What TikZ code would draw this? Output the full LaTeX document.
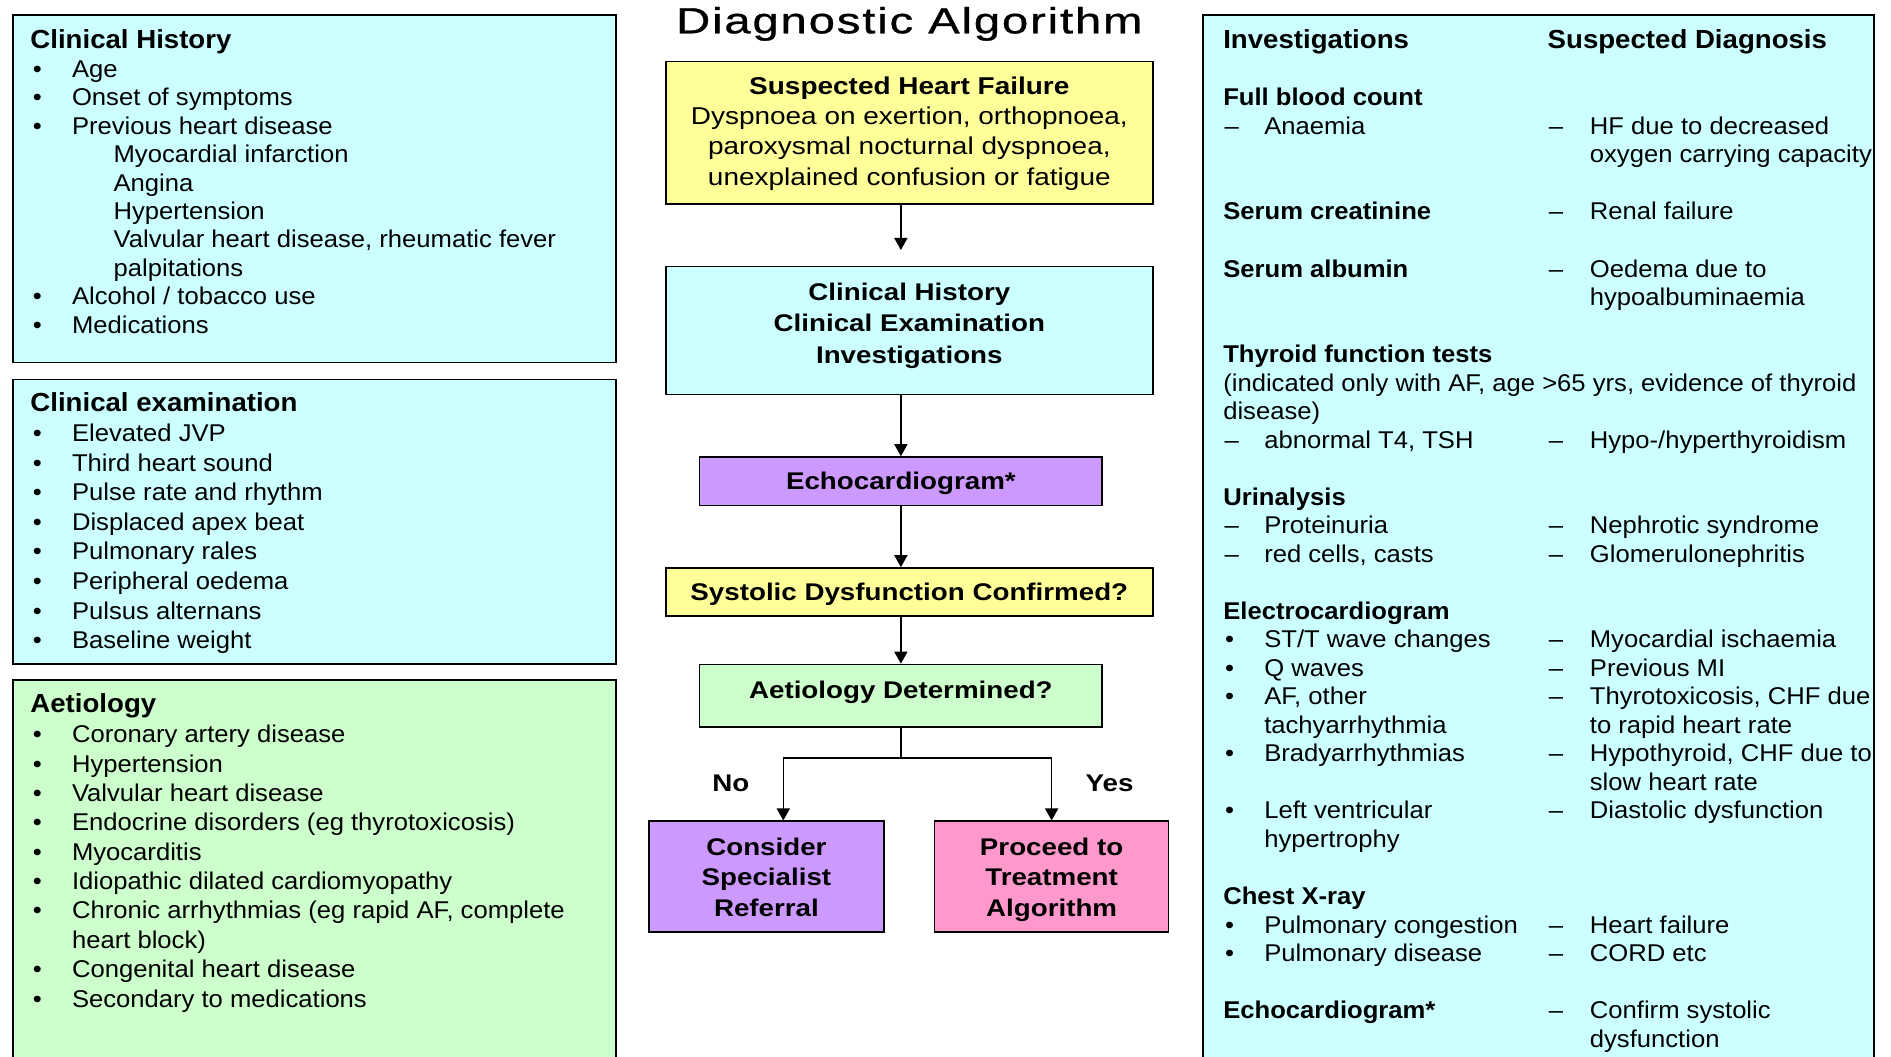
\documentclass[tikz,border=0pt]{standalone}
\usepackage{fontspec}
\setmainfont[FakeStretch=1.057]{Liberation Sans}
\newfontfamily\cfont[FakeStretch=1.15]{Liberation Sans}
\newfontfamily\tfont[FakeStretch=1.3,LetterSpace=5,FakeBold=0.8]{Liberation Sans}
\usetikzlibrary{arrows.meta,calc}
\newlength\pxu \setlength\pxu{0.6pt}
\definecolor{cyanbox}{HTML}{CCFFFF}
\definecolor{yellowbox}{HTML}{FFFF99}
\definecolor{purplebox}{HTML}{CC99FF}
\definecolor{greenbox}{HTML}{CCFFCC}
\definecolor{pinkbox}{HTML}{FF99CC}
\newcommand\hdA{\fontsize{13}{14}\selectfont\bfseries}
\newcommand\bu{\makebox[34.5\pxu][l]{\hspace*{2\pxu}\textbullet}}
\newcommand\subi{\hspace*{69\pxu}}
\newcommand\ca[1]{\makebox[34\pxu][l]{#1}}
\newcommand\cb[1]{\makebox[235\pxu][l]{#1}}
\newcommand\cc[1]{\makebox[35\pxu][l]{#1}}
\newcommand\cab[1]{\makebox[269\pxu][l]{#1}}
\newcommand\rdash{\hspace*{1\pxu}\textendash}
\newcommand\rbul{\hspace*{1.5\pxu}\textbullet}
\newcommand\shiftv[2]{\raisebox{#1}[\height][\depth]{#2}}
\begin{document}
\begin{tikzpicture}[x=0.6pt,y=-0.6pt,
  panel/.style={draw=black, line width=0.8pt, anchor=north west, inner sep=0pt},
  listtext/.style={anchor=base west, inner sep=0pt, align=left},
  flow/.style={draw=black, line width=0.8pt, inner sep=0pt},
  flowfont/.style={font=\cfont\fontsize{12}{#1}\selectfont\bfseries},
  arr/.style={draw=black, line width=0.7pt, -{Triangle[length=6pt,width=6.5pt]}},
  conn/.style={draw=black, line width=0.7pt},
  lbl/.style={inner sep=0pt, font=\cfont\fontsize{12}{14}\selectfont\bfseries}]
\useasboundingbox (0,0) rectangle (1568,876);
\clip (0,0) rectangle (1568,876);
\fill[white] (0,0) rectangle (1568,876);

% ---------- left panels ----------
\node[panel, fill=cyanbox, minimum width=300pt, minimum height=172.8pt] (histbox) at (10,12) {};
\node[panel, fill=cyanbox, minimum width=300pt, minimum height=141.6pt] (exambox) at (10,314) {};
\node[panel, fill=greenbox, minimum width=300pt, minimum height=198pt] (aetbox) at (10,563) {};

\node[listtext, font=\fontsize{12.06}{14.15}\selectfont] (histtext) at (24.9,40.1) {%
\begin{tabular}[t]{@{}l@{}}
{\hdA Clinical History}\\[0.25pt]
\bu Age\\
\bu Onset of symptoms\\
\bu Previous heart disease\\
\subi Myocardial infarction\\
\subi Angina\\
\subi Hypertension\\
\subi Valvular heart disease, rheumatic fever\\
\subi palpitations\\
\bu Alcohol / tobacco use\\
\bu Medications
\end{tabular}};

\node[listtext, font=\fontsize{12.06}{14.74}\selectfont] (examtext) at (24.9,341) {%
\begin{tabular}[t]{@{}l@{}}
{\hdA Clinical examination}\\[0.26pt]
\bu Elevated JVP\\
\bu Third heart sound\\
\bu Pulse rate and rhythm\\
\bu Displaced apex beat\\
\bu Pulmonary rales\\
\bu Peripheral oedema\\
\bu Pulsus alternans\\
\bu Baseline weight
\end{tabular}};

\node[listtext, font=\fontsize{12.06}{14.6}\selectfont] (aettext) at (24.9,591) {%
\begin{tabular}[t]{@{}l@{}}
{\hdA Aetiology}\\[0.4pt]
\bu Coronary artery disease\\
\bu Hypertension\\
\bu Valvular heart disease\\
\bu Endocrine disorders (eg thyrotoxicosis)\\
\bu Myocarditis\\
\bu Idiopathic dilated cardiomyopathy\\
\bu Chronic arrhythmias (eg rapid AF, complete\\
\hspace*{34.5\pxu}heart block)\\
\bu Congenital heart disease\\
\bu Secondary to medications
\end{tabular}};

% ---------- right panel ----------
\node[panel, fill=cyanbox, minimum width=333.6pt, minimum height=528pt] (invbox) at (997,12) {};
\node[listtext, font=\fontsize{12.06}{14.19}\selectfont] (invtext) at (1014,40.5) {%
\begin{tabular}[t]{@{}l@{}}
\makebox[269\pxu][l]{\hdA Investigations}{\hdA Suspected Diagnosis}\\
\\
{\bfseries Full blood count}\\
\ca{\rdash}\cb{Anaemia}\cc{\rdash}HF due to decreased\\
\hspace*{304\pxu}oxygen carrying capacity\\
\\
\cab{\bfseries Serum creatinine}\cc{\rdash}Renal failure\\
\\
\cab{\bfseries Serum albumin}\cc{\rdash}Oedema due to\\
\hspace*{304\pxu}hypoalbuminaemia\\
\\
{\bfseries Thyroid function tests}\\
(indicated only with AF, age >65 yrs, evidence of thyroid\\
disease)\\
\ca{\rdash}\cb{abnormal T4, TSH}\cc{\rdash}Hypo-/hyperthyroidism\\
\\
{\bfseries Urinalysis}\\
\ca{\rdash}\cb{Proteinuria}\cc{\rdash}Nephrotic syndrome\\
\ca{\rdash}\cb{red cells, casts}\cc{\rdash}Glomerulonephritis\\
\\
{\bfseries Electrocardiogram}\\
\ca{\rbul}\cb{ST/T wave changes}\cc{\rdash}Myocardial ischaemia\\
\ca{\rbul}\cb{Q waves}\cc{\rdash}Previous MI\\
\ca{\rbul}\cb{AF, other}\cc{\rdash}Thyrotoxicosis, CHF due\\
\ca{}\cb{tachyarrhythmia}\cc{}to rapid heart rate\\
\ca{\rbul}\cb{Bradyarrhythmias}\cc{\rdash}Hypothyroid, CHF due to\\
\hspace*{304\pxu}slow heart rate\\
\ca{\rbul}\cb{Left ventricular}\cc{\rdash}Diastolic dysfunction\\
\ca{}hypertrophy\\
\\
{\bfseries Chest X-ray}\\
\ca{\rbul}\cb{Pulmonary congestion}\cc{\rdash}Heart failure\\
\ca{\rbul}\cb{Pulmonary disease}\cc{\rdash}CORD etc\\
\\
\cab{\bfseries Echocardiogram*}\cc{\rdash}Confirm systolic\\
\hspace*{304\pxu}dysfunction
\end{tabular}};

% ---------- title ----------
\node[anchor=base, inner sep=0pt, font=\tfont\fontsize{18.1}{20}\selectfont] (title) at (754,27.6) {Diagnostic Algorithm};

% ---------- flowchart ----------
\node[flow, fill=yellowbox, minimum width=242.4pt, minimum height=70.8pt,
      font=\cfont\fontsize{12.1}{15}\selectfont] (hf) at (754,110) {%
\shiftv{-0.6pt}{\begin{tabular}{@{}c@{}}\bfseries Suspected Heart Failure\\
Dyspnoea on exertion, orthopnoea,\\
paroxysmal nocturnal dyspnoea,\\
unexplained confusion or fatigue\end{tabular}}};

\node[flow, fill=cyanbox, minimum width=242.4pt, minimum height=63.6pt, flowfont=15.6pt] (ch) at (754,274) {%
\shiftv{2.4pt}{\begin{tabular}{@{}c@{}}Clinical History\\ Clinical Examination\\ Investigations\end{tabular}}};

\node[flow, fill=purplebox, minimum width=200.4pt, minimum height=24pt, flowfont=14pt] (echo) at (747,399) {\shiftv{-1.2pt}{Echocardiogram*}};

\node[flow, fill=yellowbox, minimum width=242.4pt, minimum height=24pt, flowfont=14pt] (sys) at (754,491) {\shiftv{-1.2pt}{Systolic Dysfunction Confirmed?}};

\node[flow, fill=greenbox, minimum width=200.4pt, minimum height=31.2pt, flowfont=14pt] (aet) at (747,577) {%
\shiftv{1.8pt}{Aetiology Determined?}};

\node[flow, fill=purplebox, minimum width=117pt, minimum height=55.2pt, flowfont=15.3pt] (cons) at (635.5,727) {%
\shiftv{-1.5pt}{\begin{tabular}{@{}c@{}}Consider\\ Specialist\\ Referral\end{tabular}}};

\node[flow, fill=pinkbox, minimum width=116.4pt, minimum height=55.2pt, flowfont=15.3pt] (proc) at (872,727) {%
\shiftv{-1.5pt}{\begin{tabular}{@{}c@{}}Proceed to\\ Treatment\\ Algorithm\end{tabular}}};

\node[lbl] (no) at (606,649.5) {No};
\node[lbl] (yes) at (920,649.5) {Yes};

% ---------- connectors ----------
\coordinate (a1end) at (747,207.3);
\coordinate (split) at (747,628.5);
\coordinate (noX) at (649.5,628.5);

\draw[arr] (hf.south -| a1end) -- (a1end);
\draw[arr] (ch.south -| echo.north) -- (echo.north);
\draw[arr] (echo.south) -- (sys.north -| echo.south);
\draw[arr] (sys.south -| aet.north) -- (aet.north);
\draw[conn] (aet.south) -- (split);
\draw[arr] (split) -| (noX |- cons.north);
\draw[arr] (split) -| (proc.north);
\end{tikzpicture}
\end{document}
